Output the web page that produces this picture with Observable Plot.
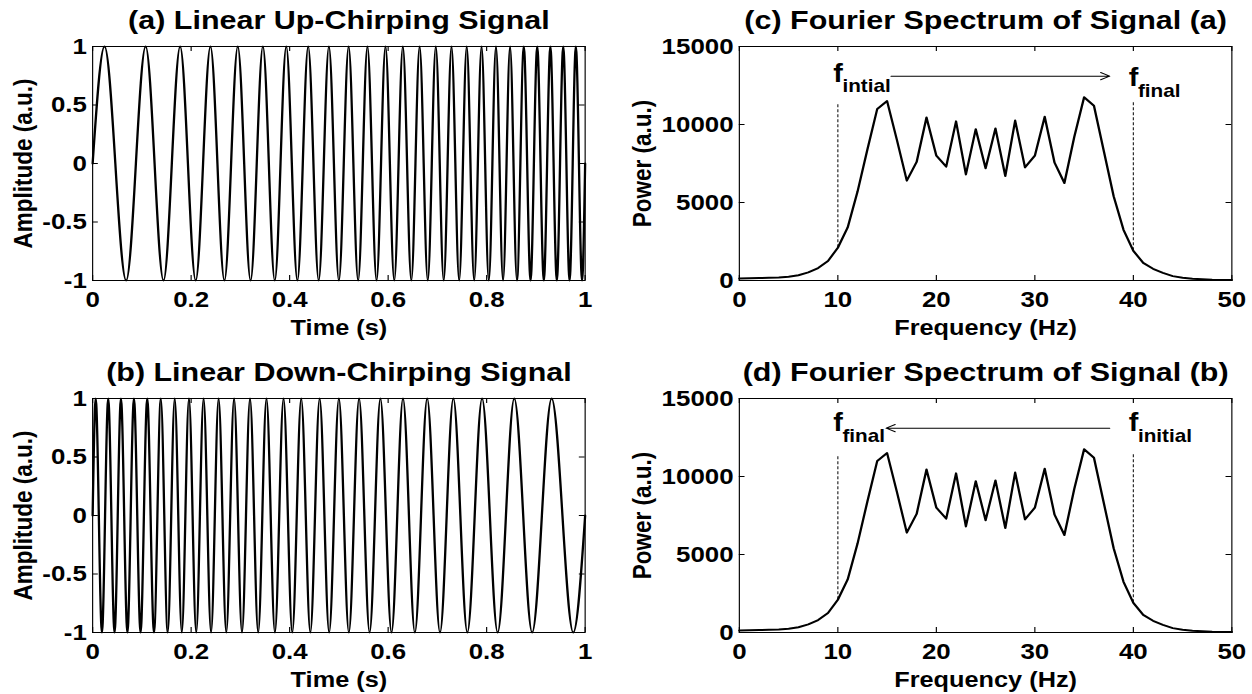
<!DOCTYPE html>
<html><head><meta charset="utf-8">
<script src="https://cdn.jsdelivr.net/npm/d3@7"></script>
<script src="https://cdn.jsdelivr.net/npm/@observablehq/plot@0.6"></script>
<style>
html,body{margin:0;padding:0;background:#fff;overflow:hidden;}
#wrap{position:relative;width:1088px;height:694px;transform:scaleX(1.150735);transform-origin:0 0;}
.panel{position:absolute;}
</style></head><body><div id="wrap"></div>
<script>
// ---------- data ----------
const timeTicks = [0, 0.2, 0.4, 0.6, 0.8, 1];
const ampTicks = [-1, -0.5, 0, 0.5, 1];
const freqTicks = [0, 10, 20, 30, 40, 50];
const powerTicks = [0, 5000, 10000, 15000];

const peakAmplitude = 1, troughAmplitude = -1, edgeAmplitude = 0;
const signalEdges = [0, 1];

// (a) up-chirp: times of maxima and minima (s)
const upPeakTimes = [0.02413, 0.10763, 0.17766, 0.23919, 0.29471, 0.34572, 0.39315, 0.43767, 0.47975, 0.51977, 0.55798, 0.59463, 0.62988, 0.66389, 0.69677, 0.72864, 0.75957, 0.78966, 0.81896, 0.84753, 0.87543, 0.90270, 0.92938, 0.95551, 0.98112];
const upTroughTimes = [0.06805, 0.14393, 0.20929, 0.26759, 0.32071, 0.36983, 0.41574, 0.45899, 0.5, 0.53908, 0.57649, 0.61242, 0.64703, 0.68046, 0.71282, 0.74422, 0.77472, 0.80440, 0.83333, 0.86156, 0.88914, 0.91611, 0.94251, 0.96837, 0.99374];
// (b) down-chirp
const downPeakTimes = [0.00626, 0.03163, 0.05749, 0.08389, 0.11086, 0.13844, 0.16667, 0.19560, 0.22528, 0.25578, 0.28718, 0.31954, 0.35297, 0.38758, 0.42351, 0.46092, 0.5, 0.54101, 0.58426, 0.63017, 0.67929, 0.73241, 0.79071, 0.85607, 0.93195];
const downTroughTimes = [0.01888, 0.04449, 0.07062, 0.09730, 0.12457, 0.15247, 0.18104, 0.21034, 0.24043, 0.27136, 0.30323, 0.33611, 0.37012, 0.40537, 0.44202, 0.48023, 0.52025, 0.56233, 0.60685, 0.65428, 0.70529, 0.76081, 0.82234, 0.89237, 0.97587];

// spectrum (same for both signals)
const freqHz = [0,1,2,3,4,5,6,7,8,9,10,11,12,13,14,15,16,17,18,19,20,21,22,23,24,25,26,27,28,29,30,31,32,33,34,35,36,37,38,39,40,41,42,43,44,45,46,47,48,49,50];
const powerAU = [130,140,160,175,200,240,340,520,800,1250,2100,3400,5700,8400,11000,11500,9000,6400,7600,10450,8000,7300,10200,6800,9700,7200,9750,6700,10250,7250,8000,10500,7550,6250,9200,11750,11200,8300,5400,3250,1900,1130,750,490,280,170,110,80,50,40,30];

const markerFreqs = [10, 40];
const guideTopPower = 11400;
const arrowPower = 13100;
const arrowUpFreqs = [15.4, 37.6];   // tail, head
const arrowDownFreqs = [37.6, 14.9]; // tail, head
const subLabelsC = ["intial", "final"];
const subLabelsD = ["final", "initial"];

const titles = ["(a) Linear Up-Chirping Signal", "(b) Linear Down-Chirping Signal", "(c) Fourier Spectrum of Signal (a)", "(d) Fourier Spectrum of Signal (b)"];
const xLabels = ["Time (s)", "Frequency (Hz)"];
const yLabels = ["Amplitude (a.u.)", "Power (a.u.)"];

// ---------- build ----------
function buildSignal(peaks, troughs) {
  const pts = [
    ...signalEdges.map(t => ({t, v: edgeAmplitude})),
    ...peaks.map(t => ({t, v: peakAmplitude})),
    ...troughs.map(t => ({t, v: troughAmplitude}))
  ];
  return pts.sort((a, b) => a.t - b.t);
}
const spectrum = freqHz.map((f, i) => ({f, p: powerAU[i]}));
const guides = markerFreqs.map(f => ({f, p0: powerAU[freqHz.indexOf(f)], p1: guideTopPower}));

const FONT = '"Liberation Sans", Arial, Helvetica, sans-serif';
const PW = 544, PH = 347;
const fmt = d => String(d);

function panel({left, top, m, xDomain, yDomain, xTicks, yTicks, title, xLabel, yLabel, yLabelDx, dataMarks}) {
  const W = PW - m.l - m.r, H = PH - m.t - m.b;
  const svg = Plot.plot({
    width: PW, height: PH,
    marginLeft: m.l, marginRight: m.r, marginTop: m.t, marginBottom: m.b,
    x: {domain: xDomain, label: null},
    y: {domain: yDomain, label: null},
    style: {fontFamily: FONT, fontSize: "22px", fontWeight: "bold", color: "#000", background: "transparent", overflow: "visible"},
    marks: [
      ...dataMarks,
      Plot.frame({stroke: "#000", strokeWidth: 1}),
      Plot.tickX(xTicks, {x: d => d, insetTop: H - 5, stroke: "#000"}),
      Plot.tickX(xTicks, {x: d => d, insetBottom: H - 5, stroke: "#000"}),
      Plot.tickY(yTicks, {y: d => d, insetRight: W - 5, stroke: "#000"}),
      Plot.tickY(yTicks, {y: d => d, insetLeft: W - 5, stroke: "#000"}),
      Plot.axisX({ticks: xTicks, tickSize: 0, tickPadding: 11, tickFormat: fmt, label: null, fontSize: 22.5, fontWeight: "bold"}),
      Plot.axisY({ticks: yTicks, tickSize: 0, tickPadding: 5, tickFormat: fmt, label: null, fontSize: 22.5, fontWeight: "bold"}),
      Plot.text([title], {frameAnchor: "top", textAnchor: "middle", dy: -18, lineAnchor: "bottom", fontSize: 26.5, fontWeight: "bold"}),
      Plot.text([xLabel], {frameAnchor: "bottom", textAnchor: "middle", dy: 54, lineAnchor: "bottom", fontSize: 22, fontWeight: "bold"}),
      Plot.text([yLabel], {frameAnchor: "left", textAnchor: "middle", rotate: -90, dx: yLabelDx, lineAnchor: "bottom", fontSize: 22.5, fontWeight: "bold"})
    ]
  });
  const div = document.createElement("div");
  div.className = "panel";
  div.style.left = left + "px";
  div.style.top = top + "px";
  div.appendChild(svg);
  document.getElementById("wrap").appendChild(div);
}

function signalMarks(data) {
  return [Plot.line(data, {x: "t", y: "v", curve: "monotone-x", stroke: "#000", strokeWidth: 2})];
}

function spectrumMarks(subs, arrowFreqs, fDy, subDy) {
  const ann = markerFreqs.map((f, i) => ({f, sub: subs[i], fDy: fDy[i], subDy: subDy[i]}));
  return [
    Plot.ruleX(guides, {x: "f", y1: "p0", y2: "p1", stroke: "#222", strokeWidth: 1, strokeDasharray: "3,2"}),
    Plot.line(spectrum, {x: "f", y: "p", stroke: "#000", strokeWidth: 2}),
    Plot.arrow([{x1: arrowFreqs[0], x2: arrowFreqs[1], y: arrowPower}], {x1: "x1", x2: "x2", y1: "y", y2: "y", stroke: "#000", strokeWidth: 1, headLength: 13, headAngle: 50}),
    ...ann.map(a => Plot.text([a], {x: "f", text: () => "f", frameAnchor: "top", dy: a.fDy, dx: -4, textAnchor: "start", lineAnchor: "bottom", fontSize: 25, fontWeight: "bold"})),
    ...ann.map(a => Plot.text([a], {x: "f", text: "sub", frameAnchor: "top", dy: a.subDy, dx: 4, textAnchor: "start", lineAnchor: "bottom", fontSize: 18, fontWeight: "bold"}))
  ];
}

const mLeftTop = {l: 80, r: 36, t: 46, b: 67};
const mRightTop = {l: 98, r: 18, t: 46, b: 67};
const mLeftBot = {l: 80, r: 36, t: 51, b: 62};
const mRightBot = {l: 98, r: 18, t: 51, b: 62};

panel({left: 0, top: 0, m: mLeftTop, xDomain: [0, 1], yDomain: [-1, 1], xTicks: timeTicks, yTicks: ampTicks,
  title: titles[0], xLabel: xLabels[0], yLabel: yLabels[0], yLabelDx: -52.5,
  dataMarks: signalMarks(buildSignal(upPeakTimes, upTroughTimes))});
panel({left: 0, top: 347, m: mLeftBot, xDomain: [0, 1], yDomain: [-1, 1], xTicks: timeTicks, yTicks: ampTicks,
  title: titles[1], xLabel: xLabels[0], yLabel: yLabels[0], yLabelDx: -52.5,
  dataMarks: signalMarks(buildSignal(downPeakTimes, downTroughTimes))});
panel({left: 544, top: 0, m: mRightTop, xDomain: [0, 50], yDomain: [0, 15000], xTicks: freqTicks, yTicks: powerTicks,
  title: titles[2], xLabel: xLabels[1], yLabel: yLabels[1], yLabelDx: -76.5,
  dataMarks: spectrumMarks(subLabelsC, arrowUpFreqs, [35.5, 39], [45.7, 50])});
panel({left: 544, top: 347, m: mRightBot, xDomain: [0, 50], yDomain: [0, 15000], xTicks: freqTicks, yTicks: powerTicks,
  title: titles[3], xLabel: xLabels[1], yLabel: yLabels[1], yLabelDx: -76.5,
  dataMarks: spectrumMarks(subLabelsD, arrowDownFreqs, [32, 32], [43.7, 43.7])});
</script></body></html>
